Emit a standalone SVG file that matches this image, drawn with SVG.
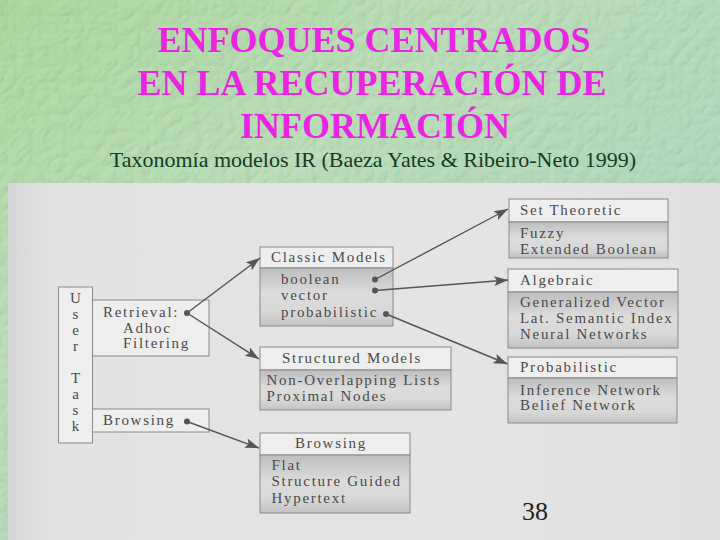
<svg xmlns="http://www.w3.org/2000/svg" width="720" height="540" viewBox="0 0 720 540">
<defs>
  <linearGradient id="bgGreen" x1="0" y1="0" x2="1" y2="1">
    <stop offset="0" stop-color="#b0dca4"/>
    <stop offset="0.35" stop-color="#bfe2bc"/>
    <stop offset="0.7" stop-color="#b4dcc0"/>
    <stop offset="1" stop-color="#c4e2b0"/>
  </linearGradient>
  <linearGradient id="photo" x1="0" y1="0" x2="1" y2="0">
    <stop offset="0" stop-color="#d6d6d8"/>
    <stop offset="0.06" stop-color="#e2e2e3"/>
    <stop offset="0.6" stop-color="#e4e4e5"/>
    <stop offset="1" stop-color="#e0e0e1"/>
  </linearGradient>
  <linearGradient id="body" x1="0" y1="0" x2="0" y2="1">
    <stop offset="0" stop-color="#bdbdbd"/>
    <stop offset="0.45" stop-color="#dcdcdc"/>
    <stop offset="0.75" stop-color="#d8d8d8"/>
    <stop offset="1" stop-color="#c2c2c2"/>
  </linearGradient>
  <filter id="tex" x="0" y="0" width="100%" height="100%">
    <feTurbulence type="turbulence" baseFrequency="0.06" numOctaves="2" seed="7" result="t"/>
    <feDiffuseLighting in="t" surfaceScale="1.5" lighting-color="#ffffff" result="l">
      <feDistantLight azimuth="225" elevation="60"/>
    </feDiffuseLighting>
    <feComposite in="l" in2="SourceGraphic" operator="arithmetic" k1="1" k2="0" k3="0" k4="0"/>
  </filter>
  <marker id="arrow" viewBox="0 0 14 10" refX="14" refY="5" markerWidth="14" markerHeight="10" markerUnits="userSpaceOnUse" orient="auto">
    <path d="M0,0 L14,5 L0,10 L3,5 Z" fill="#555"/>
  </marker>
  <style>
    text{font-family:'Liberation Serif','DejaVu Serif','Times New Roman',serif}
    .title{font-weight:bold;font-size:36px;fill:#ea24e2;text-anchor:middle}
    .sub{font-size:22px;fill:#173c22;text-anchor:middle}
    .box{fill:#eeeeee;stroke:#8a8a8a;stroke-width:1}
    .bd{fill:url(#body);stroke:#8a8a8a;stroke-width:1}
    .t{font-size:15px;letter-spacing:1.7px;fill:#4a4a4a}
    .ut{font-size:15px;fill:#4a4a4a;text-anchor:middle}
    .ln{stroke:#555;stroke-width:1.4;fill:none;marker-end:url(#arrow)}
    .dot{fill:#555}
    .num{font-size:26px;fill:#222}
  </style>
</defs>

<g id="background">
  <rect x="0" y="0" width="720" height="540" fill="url(#bgGreen)"/>
  <rect x="0" y="0" width="720" height="540" fill="url(#bgGreen)" filter="url(#tex)" opacity="0.45"/>
  <rect x="8" y="183" width="712" height="357" fill="url(#photo)"/>
</g>

<g id="title">
  <text class="title" x="374" y="52" font-family="Liberation Serif, serif">ENFOQUES CENTRADOS</text>
  <text class="title" x="372" y="95" font-family="Liberation Serif, serif">EN LA RECUPERACIÓN DE</text>
  <text class="title" x="375" y="138" font-family="Liberation Serif, serif">INFORMACIÓN</text>
  <text class="sub" x="373" y="167">Taxonomía modelos IR (Baeza Yates &amp; Ribeiro-Neto 1999)</text>
</g>

<g id="user-task">
  <rect class="box" x="58.5" y="287" width="34" height="156"/>
  <text class="ut" x="75.5" y="303">U</text>
  <text class="ut" x="75.5" y="319">s</text>
  <text class="ut" x="75.5" y="335">e</text>
  <text class="ut" x="75.5" y="351">r</text>
  <text class="ut" x="75.5" y="383">T</text>
  <text class="ut" x="75.5" y="399">a</text>
  <text class="ut" x="75.5" y="415">s</text>
  <text class="ut" x="75.5" y="431">k</text>
</g>

<g id="retrieval">
  <rect class="box" x="92.5" y="300" width="116.5" height="56"/>
  <text class="t" x="103" y="317">Retrieval:</text>
  <text class="t" x="123" y="332.5">Adhoc</text>
  <text class="t" x="123" y="348">Filtering</text>
</g>

<g id="browsing-task">
  <rect class="box" x="92.5" y="409" width="116.5" height="23"/>
  <text class="t" x="103" y="425">Browsing</text>
</g>

<g id="classic-models">
  <rect class="box" x="260" y="247" width="133" height="21"/>
  <rect class="bd" x="260" y="268" width="133" height="58"/>
  <text class="t" x="271" y="262">Classic Models</text>
  <text class="t" x="281" y="283.5">boolean</text>
  <text class="t" x="281" y="300">vector</text>
  <text class="t" x="281" y="316.5">probabilistic</text>
</g>

<g id="structured-models">
  <rect class="box" x="260" y="347" width="191" height="23"/>
  <rect class="bd" x="260" y="370" width="191" height="40"/>
  <text class="t" x="282" y="362.5">Structured Models</text>
  <text class="t" x="266.5" y="385">Non-Overlapping Lists</text>
  <text class="t" x="266.5" y="401">Proximal Nodes</text>
</g>

<g id="browsing-models">
  <rect class="box" x="260" y="433" width="150" height="22"/>
  <rect class="bd" x="260" y="455" width="150" height="58"/>
  <text class="t" x="295" y="448">Browsing</text>
  <text class="t" x="271.5" y="470">Flat</text>
  <text class="t" x="271.5" y="486">Structure Guided</text>
  <text class="t" x="271.5" y="502.5">Hypertext</text>
</g>

<g id="set-theoretic">
  <rect class="box" x="509" y="199" width="159" height="23"/>
  <rect class="bd" x="509" y="222" width="159" height="36"/>
  <text class="t" x="520" y="215">Set Theoretic</text>
  <text class="t" x="520" y="238">Fuzzy</text>
  <text class="t" x="520" y="254">Extended Boolean</text>
</g>

<g id="algebraic">
  <rect class="box" x="508" y="269" width="170" height="23"/>
  <rect class="bd" x="508" y="292" width="170" height="56"/>
  <text class="t" x="520" y="285">Algebraic</text>
  <text class="t" x="520" y="306.5">Generalized Vector</text>
  <text class="t" x="520" y="322.5">Lat. Semantic Index</text>
  <text class="t" x="520" y="339">Neural Networks</text>
</g>

<g id="probabilistic">
  <rect class="box" x="508" y="357" width="169" height="21"/>
  <rect class="bd" x="508" y="378" width="169" height="45"/>
  <text class="t" x="520" y="371.5">Probabilistic</text>
  <text class="t" x="520" y="394.5">Inference Network</text>
  <text class="t" x="520" y="410">Belief Network</text>
</g>

<g id="connectors">
  <line class="ln" x1="187" y1="313" x2="260" y2="258"/>
  <line class="ln" x1="187" y1="313" x2="259" y2="359"/>
  <line class="ln" x1="187" y1="421.5" x2="259" y2="448"/>
  <line class="ln" x1="375" y1="279.5" x2="508" y2="209"/>
  <line class="ln" x1="375" y1="290.5" x2="508" y2="280"/>
  <line class="ln" x1="386" y1="314" x2="507.5" y2="364"/>
  <circle class="dot" cx="187" cy="313" r="3"/>
  <circle class="dot" cx="187" cy="421.5" r="3"/>
  <circle class="dot" cx="375" cy="279.5" r="3"/>
  <circle class="dot" cx="375" cy="290.5" r="3"/>
  <circle class="dot" cx="386" cy="314" r="3"/>
</g>

<g id="page-number">
  <text class="num" x="522" y="520">38</text>
</g>
</svg>
